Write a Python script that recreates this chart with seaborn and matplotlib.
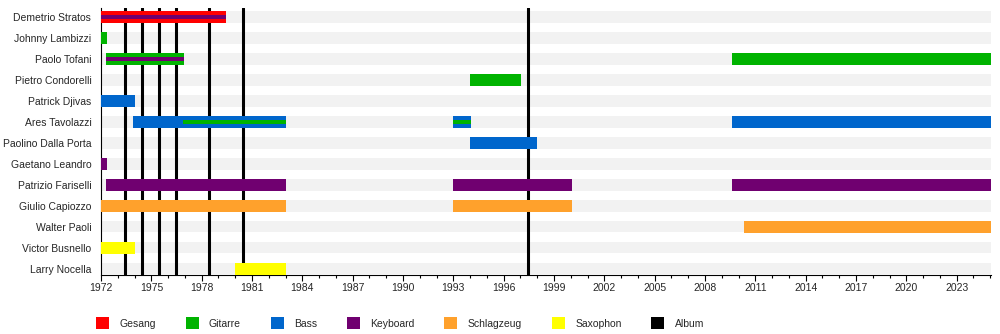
import matplotlib
matplotlib.use("Agg")
import matplotlib.pyplot as plt
import matplotlib.patches as mpatches
from matplotlib.ticker import MultipleLocator
import seaborn as sns
import pandas as pd

sns.set_theme(style="white")
plt.rcParams['font.family'] = ['Liberation Sans', 'DejaVu Sans']

members = ["Demetrio Stratos", "Johnny Lambizzi", "Paolo Tofani", "Pietro Condorelli",
           "Patrick Djivas", "Ares Tavolazzi", "Paolino Dalla Porta", "Gaetano Leandro",
           "Patrizio Fariselli", "Giulio Capiozzo", "Walter Paoli", "Victor Busnello",
           "Larry Nocella"]

roles = ["Gesang", "Gitarre", "Bass", "Keyboard", "Schlagzeug", "Saxophon"]
role_colors = ["#ff0000", "#00b300", "#0066cc", "#700070", "#ffa12c", "#ffff00"]

# main bars
bar_member = ["Demetrio Stratos", "Johnny Lambizzi", "Paolo Tofani", "Paolo Tofani",
              "Pietro Condorelli", "Patrick Djivas", "Ares Tavolazzi", "Ares Tavolazzi",
              "Ares Tavolazzi", "Paolino Dalla Porta", "Gaetano Leandro",
              "Patrizio Fariselli", "Patrizio Fariselli", "Patrizio Fariselli",
              "Giulio Capiozzo", "Giulio Capiozzo", "Walter Paoli", "Victor Busnello",
              "Larry Nocella"]
bar_start = [1972.0, 1972.0, 1972.3, 2009.6, 1994.0, 1972.0, 1973.9, 1993.0, 2009.6,
             1994.0, 1972.0, 1972.3, 1993.0, 2009.6, 1972.0, 1993.0, 2010.3, 1972.0,
             1980.0]
bar_end = [1979.45, 1972.35, 1976.95, 2025.05, 1997.05, 1974.0, 1983.0, 1994.05, 2025.05,
           1998.0, 1972.35, 1983.0, 2000.05, 2025.05, 1983.0, 2000.05, 2025.05, 1974.0,
           1983.0]
bar_role = ["Gesang", "Gitarre", "Gitarre", "Gitarre", "Gitarre", "Bass", "Bass", "Bass",
            "Bass", "Bass", "Keyboard", "Keyboard", "Keyboard", "Keyboard", "Schlagzeug",
            "Schlagzeug", "Schlagzeug", "Saxophon", "Saxophon"]

# secondary role strips
strip_member = ["Demetrio Stratos", "Paolo Tofani", "Ares Tavolazzi", "Ares Tavolazzi"]
strip_start = [1972.0, 1972.3, 1976.9, 1993.0]
strip_end = [1979.45, 1976.95, 1983.0, 1994.05]
strip_role = ["Keyboard", "Keyboard", "Gitarre", "Gitarre"]

albums = [1973.45, 1974.45, 1975.45, 1976.45, 1978.45, 1980.45, 1997.45]

x_min, x_max = 1972.0, 2025.05

cmap = dict(zip(roles, role_colors))
ypos = {m: i for i, m in enumerate(members)}

bars = pd.DataFrame({"member": bar_member, "start": bar_start, "end": bar_end, "role": bar_role})
strips = pd.DataFrame({"member": strip_member, "start": strip_start, "end": strip_end, "role": strip_role})

fig = plt.figure(figsize=(10, 3.34), dpi=100)
ax = fig.add_axes([0.101, 1 - 275 / 334, 0.890, 267 / 334])

# background bands
ax.barh([ypos[m] for m in members], [x_max - x_min] * len(members), left=x_min,
        height=0.53, color="#f2f2f2", linewidth=0, edgecolor="none", zorder=1)

# album lines
for a in albums:
    ax.axvline(a, color="black", lw=2.2, zorder=2)

# bars
ax.barh(bars["member"].map(ypos), bars["end"] - bars["start"], left=bars["start"],
        height=0.57, color=bars["role"].map(cmap), linewidth=0, edgecolor="none", zorder=3)
ax.barh(strips["member"].map(ypos), strips["end"] - strips["start"], left=strips["start"],
        height=0.19, color=strips["role"].map(cmap), linewidth=0, edgecolor="none", zorder=4)

ax.set_xlim(x_min, x_max)
ax.set_ylim(12.29, -0.43)
ax.set_yticks(range(len(members)))
ax.set_yticklabels(members, fontsize=7.5)
ax.tick_params(axis="y", length=0, pad=7)

ax.xaxis.set_minor_locator(MultipleLocator(1))
ax.set_xticks(range(1972, 2025, 3))
ax.set_xticklabels([str(y) for y in range(1972, 2025, 3)], fontsize=7.5)
ax.tick_params(axis="x", which="major", direction="out", length=4, width=0.8,
               color="black", bottom=True, pad=2)
ax.tick_params(axis="x", which="minor", direction="out", length=2.5, width=0.8,
               color="black", bottom=True)

for s in ["top", "right"]:
    ax.spines[s].set_visible(False)
for s in ["left", "bottom"]:
    ax.spines[s].set_color("black")
    ax.spines[s].set_linewidth(0.8)
ax.grid(False)

handles = [mpatches.Patch(facecolor=c, edgecolor="none", label=r) for r, c in zip(roles, role_colors)]
handles.append(mpatches.Patch(facecolor="black", edgecolor="none", label="Album"))
fig.legend(handles=handles, loc="center", bbox_to_anchor=(0.400, 1 - 323 / 334),
           ncol=7, frameon=False, fontsize=7.5, handlelength=1.25, handleheight=1.25,
           handletextpad=1.0, columnspacing=2.85, borderpad=0)

fig.savefig("out.png", dpi=100)
